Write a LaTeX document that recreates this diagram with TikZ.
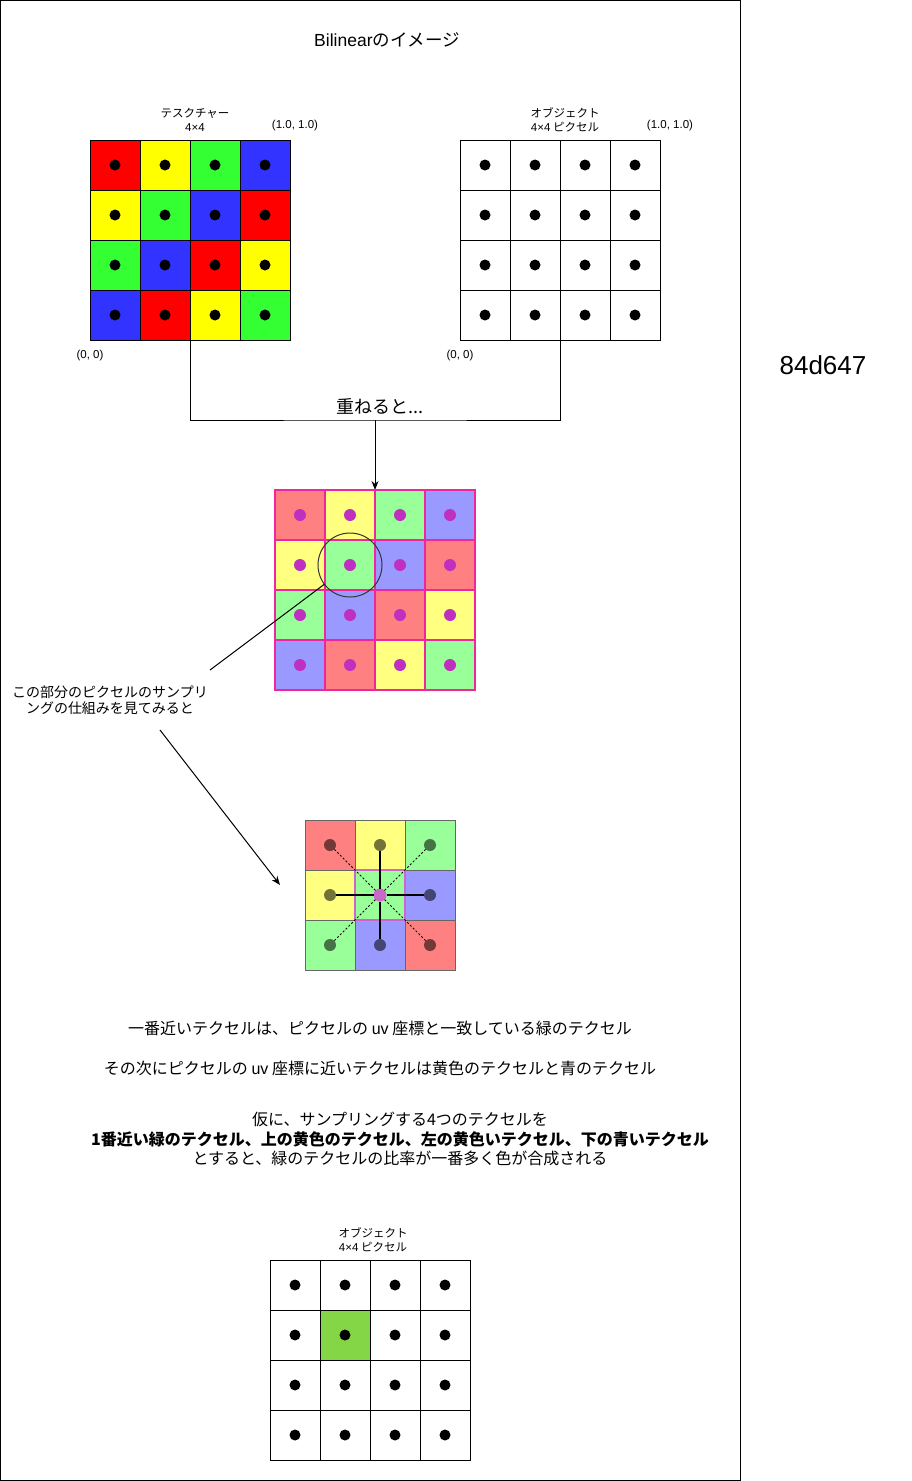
\documentclass[tikz,border=0pt]{standalone}
\usepackage{fontspec}
\setmainfont{Noto Sans CJK JP}
\newfontfamily\latin{Liberation Sans}
\usetikzlibrary{positioning, arrows.meta}

\definecolor{texred}{HTML}{FF0000}
\definecolor{texyellow}{HTML}{FFFF00}
\definecolor{texgreen}{HTML}{33FF33}
\definecolor{texblue}{HTML}{3333FF}
\definecolor{mixred}{HTML}{FF8080}
\definecolor{mixyellow}{HTML}{FFFF80}
\definecolor{mixgreen}{HTML}{99FF99}
\definecolor{mixblue}{HTML}{9999FF}
\definecolor{pixdot}{HTML}{C030C0}
\definecolor{centerdot}{HTML}{CC66CC}
\definecolor{pickgreen}{HTML}{84D647}

\def\texpattern{1/{red,yellow,green,blue},2/{yellow,green,blue,red},3/{green,blue,red,yellow},4/{blue,red,yellow,green}}

\begin{document}
\begin{tikzpicture}[
  x=1pt, y=-1pt, line width=1pt,
  every node/.style={inner sep=0pt, outer sep=0pt},
  cell/.style={rectangle, draw, minimum size=50pt},
  dot/.style={circle, fill=black, minimum size=11pt},
  pixeldot/.style={circle, fill=pixdot, minimum size=12pt},
  dimdot/.style={circle, fill=black, fill opacity=0.55, minimum size=12pt},
  caption/.style={align=center, font=\fontsize{11.5}{14}\selectfont},
  coordlabel/.style={font=\latin\fontsize{11.5}{14}\selectfont},
  body/.style={align=center, font=\fontsize{16}{19.5}\selectfont},
  arrow/.style={-{Stealth[width=7pt, length=9pt]}},
  link/.style={line width=2pt},
  diag/.style={dash pattern=on 2pt off 2pt}
]
\useasboundingbox (0,0) rectangle (911,1481);

% Frame
\draw (0.5,0.5) rectangle (740,1480);
\node[font=\fontsize{17.5}{20}\selectfont] (title) at (387,40) {{\latin Bilinear}のイメージ};
\node[font=\latin\fontsize{26}{30}\selectfont] (code) at (823,365) {84d647};

% Texture
\node[minimum size=200pt] (tex) at (190,240) {};
\foreach \r/\cols in \texpattern
  \foreach \col [count=\c] in \cols {
    \node[cell, fill=tex\col] (tex-\r-\c) at ({65+50*\c},{115+50*\r}) {};
    \node[dot] (tex-\r-\c-dot) at (tex-\r-\c) {};
  }
\node[caption] (texcap) at (195,120) {テスクチャー\\{\latin 4×4}};
\node[coordlabel] (texmax) at (295,126) {(1.0, 1.0)};
\node[coordlabel] (texmin) at (90,356) {(0, 0)};

% Object
\node[minimum size=200pt] (obj) at (560,240) {};
\foreach \r in {1,...,4}
  \foreach \c in {1,...,4} {
    \node[cell, fill=white] (obj-\r-\c) at ({435+50*\c},{115+50*\r}) {};
    \node[dot] (obj-\r-\c-dot) at (obj-\r-\c) {};
  }
\node[caption] (objcap) at (565,120) {オブジェクト\\{\latin 4×4} ピクセル};
\node[coordlabel] (objmax) at (670,126) {(1.0, 1.0)};
\node[coordlabel] (objmin) at (460,356) {(0, 0)};

% Overlap
\coordinate (merge) at (375,420);
\draw (tex.south) |- (merge) -| (obj.south);
\node[font=\fontsize{18}{20}\selectfont] (mergetext) at (380,406) {重ねると...};
\node[minimum size=200pt] (ovl) at (375,590) {};
\draw[arrow] (merge) -- (ovl.north);
\foreach \r/\cols in \texpattern
  \foreach \col [count=\c] in \cols {
    \node[cell, draw=magenta!85, line width=1.2pt, fill=mix\col] (ovl-\r-\c) at ({250+50*\c},{465+50*\r}) {};
    \node[pixeldot] (ovl-\r-\c-dot) at (ovl-\r-\c) {};
  }
\node[circle, draw=black!80, minimum size=64pt] (focus) at (ovl-2-2) {};

% Callout
\coordinate (callout) at (210,670);
\draw (callout) -- (focus);
\node[align=center, font=\fontsize{14}{16}\selectfont] (note) at (110,700) {この部分のピクセルのサンプリ\\ングの仕組みを見てみると};
\coordinate (zoomfrom) at (160,730);
\coordinate (zoomto) at (280,885);
\draw[arrow] (zoomfrom) -- (zoomto);

% Zoomed sampling
\foreach \r/\cols in {1/{red,yellow,green},2/{yellow,green,blue},3/{green,blue,red}}
  \foreach \col [count=\c] in \cols {
    \node[cell, draw=black!60, fill=mix\col] (z-\r-\c) at ({280+50*\c},{795+50*\r}) {};
    \ifnum\r\c=22\relax\else
      \node[dimdot] (z-\r-\c-dot) at (z-\r-\c) {};
    \fi
  }
\draw[draw=centerdot, line width=1.2pt] (z-2-2.south west) rectangle (z-2-2.north east);
\node[circle, fill=centerdot, minimum size=13pt] (zc) at (z-2-2) {};
\draw[link] (zc) -- (z-1-2-dot);
\draw[link] (zc) -- (z-2-1-dot);
\draw[link] (zc) -- (z-2-3-dot);
\draw[link] (zc) -- (z-3-2-dot);
\draw[diag] (zc) -- (z-1-1-dot);
\draw[diag] (zc) -- (z-1-3-dot);
\draw[diag] (zc) -- (z-3-1-dot);
\draw[diag] (zc) -- (z-3-3-dot);

% Explanation
\node[body] (nearest) at (380,1028) {一番近いテクセルは、ピクセルの {\latin uv} 座標と一致している緑のテクセル};
\node[body] (second) at (380,1068) {その次にピクセルの {\latin uv} 座標に近いテクセルは黄色のテクセルと青のテクセル};
\node[body] (assume) at (400,1139) {仮に、サンプリングする4つのテクセルを\\{\bfseries 1番近い緑のテクセル、上の黄色のテクセル、左の黄色いテクセル、下の青いテクセル}\\とすると、緑のテクセルの比率が一番多く色が合成される};

% Result
\foreach \r in {1,...,4}
  \foreach \c in {1,...,4} {
    \node[cell, fill=white] (res-\r-\c) at ({245+50*\c},{1235+50*\r}) {};
  }
\node[cell, fill=pickgreen] (res-2-2) at (res-2-2) {};
\foreach \r in {1,...,4}
  \foreach \c in {1,...,4} {
    \node[dot] (res-\r-\c-dot) at (res-\r-\c) {};
  }
\node[caption] (rescap) at (373,1240) {オブジェクト\\{\latin 4×4} ピクセル};

\end{tikzpicture}
\end{document}
